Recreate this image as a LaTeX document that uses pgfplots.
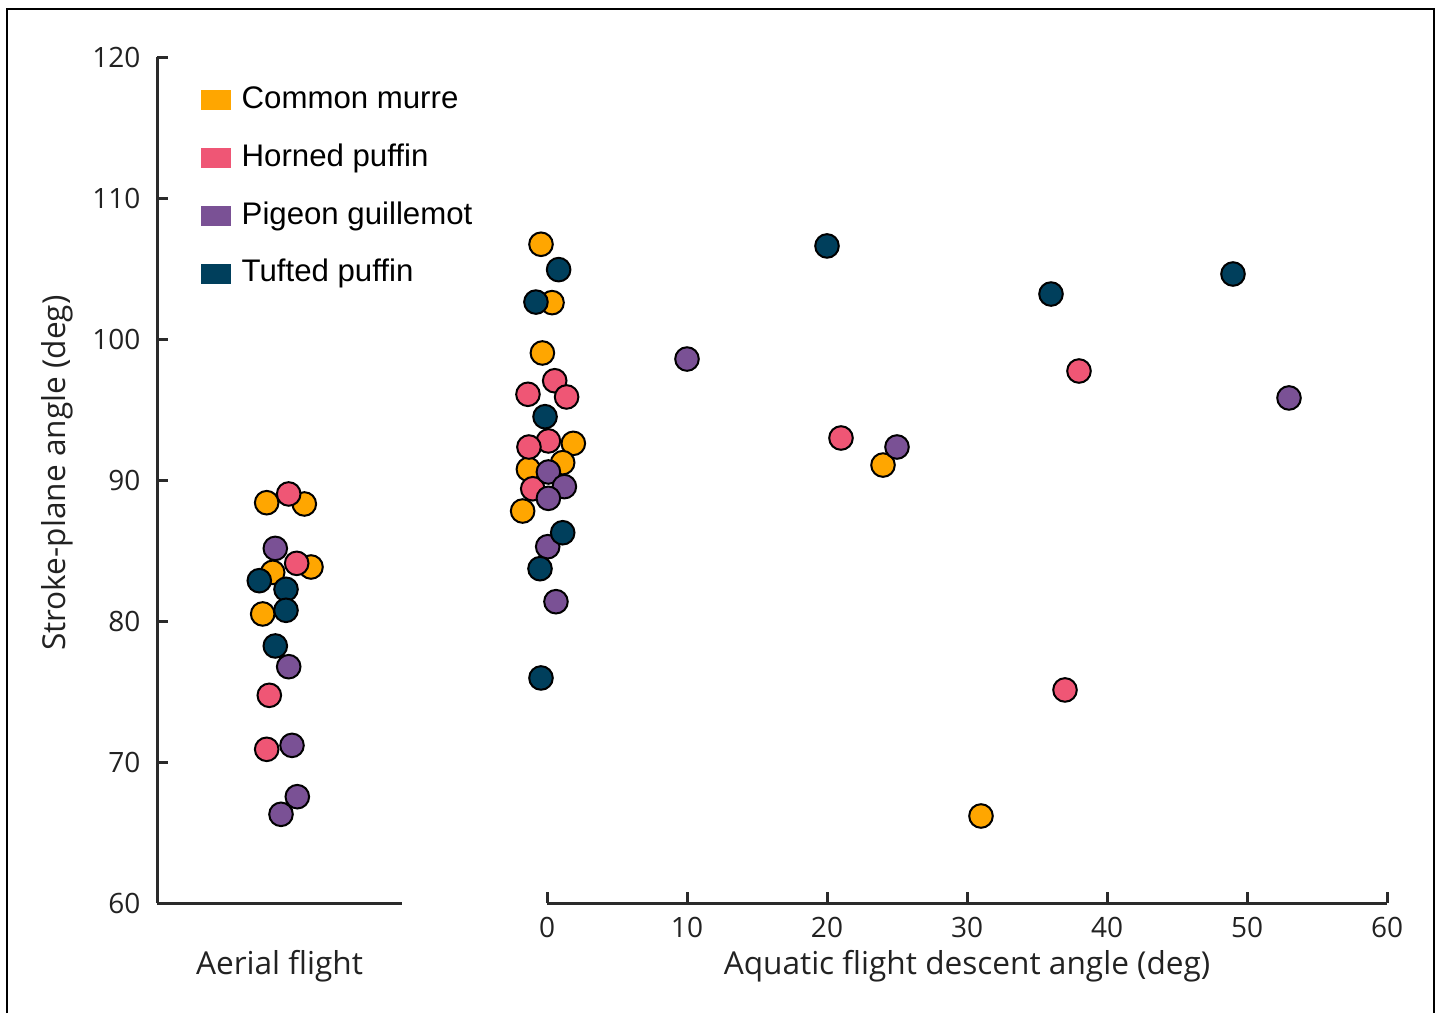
\documentclass[border=0pt]{standalone}
\usepackage{pgfplots}
\pgfplotsset{compat=1.18}
\usepackage{fontspec}
\setmainfont{Open Sans}
\newfontfamily\legfont{Liberation Sans}
\definecolor{cmurre}{HTML}{FFA600}
\definecolor{hpuffin}{HTML}{EF5675}
\definecolor{pguill}{HTML}{7A5195}
\definecolor{tpuffin}{HTML}{003F5C}
\definecolor{axgray}{HTML}{2A2A2A}
\definecolor{txtgray}{HTML}{222222}
\pgfplotsset{
  pts/.style={only marks, mark=*, mark size=5.9pt, mark options={draw=black, line width=1pt, fill=#1}},
  common/.style={
    scale only axis, anchor=south west, clip=false,
    ymin=60, ymax=120, height=423pt,
    axis line style={line width=1.5pt, color=axgray},
    tick style={line width=1.5pt, color=axgray},
    tick align=inside, major tick length=5.5pt,
    /pgf/number format/assume math mode=true,
    tick label style={font=\fontsize{14}{16}\selectfont, text=txtgray},
    label style={font=\fontsize{15.8}{19}\selectfont, text=txtgray},
  }
}
\begin{document}
\begin{tikzpicture}
\useasboundingbox (0,0) rectangle (720pt,506.5pt);
\draw[line width=0.6pt, black] (3.5pt,0) -- (3.5pt,502pt) -- (717pt,502pt) -- (717pt,0);
% left axis: aerial flight
\begin{axis}[common,
  at={(78.5pt,55pt)}, width=122.5pt,
  xmin=0, xmax=245,
  axis x line*=bottom, axis y line*=left,
  xtick=\empty, ytick={60,70,...,120},
  yticklabel style={xshift=-4.8pt},
  xlabel={Aerial flight},
  xlabel style={at={(axis description cs:0.5,-0.0745)}, anchor=center},
  ylabel={Stroke-plane angle (deg)},
  ylabel style={at={(axis description cs:-0.408,0.508)}, anchor=center},
  legend style={draw=none, fill=none, at={(axis description cs:0.1555,0.970)}, anchor=north west,
    font=\legfont\fontsize{15.6}{17}\selectfont, text=black,
    nodes={inner sep=0pt, text height=11pt, text depth=3.5pt},
    row sep=14.35pt, /tikz/every odd column/.append style={column sep=5.2pt}},
  legend cell align=left,
]
\addlegendimage{legend image code/.code={\fill[cmurre] (0pt,-4.3pt) rectangle (14.5pt,5.2pt);}}
\addlegendentry{Common murre}
\addlegendimage{legend image code/.code={\fill[hpuffin] (0pt,-4.3pt) rectangle (14.5pt,5.2pt);}}
\addlegendentry{Horned puffin}
\addlegendimage{legend image code/.code={\fill[pguill] (0pt,-4.3pt) rectangle (14.5pt,5.2pt);}}
\addlegendentry{Pigeon guillemot}
\addlegendimage{legend image code/.code={\fill[tpuffin] (0pt,-4.3pt) rectangle (14.5pt,5.2pt);}}
\addlegendentry{Tufted puffin}
\addplot[pts=cmurre, forget plot] coordinates {(109.7,88.39) (147.3,88.30) (154,83.83) (115.7,83.45) (105.7,80.50)};
\addplot[pts=hpuffin, forget plot] coordinates {(131.7,89.01) (139.7,84.09) (112.3,74.73) (109.7,70.90)};
\addplot[pts=pguill, forget plot] coordinates {(118.3,85.15) (131.7,76.76) (135,71.18) (140.3,67.54) (124,66.29)};
\addplot[pts=tpuffin, forget plot] coordinates {(102.3,82.86) (129,82.25) (129,80.76) (118.3,78.23)};
\end{axis}
% right axis: aquatic flight
\begin{axis}[common,
  at={(273.5pt,55pt)}, width=420pt,
  xmin=0, xmax=60,
  axis x line*=bottom, axis y line=none,
  xtick={0,10,...,60},
  xticklabel style={yshift=-3.5pt},
  xlabel={Aquatic flight descent angle (deg)},
  xlabel style={at={(axis description cs:0.5,-0.0745)}, anchor=center},
]
\addplot[pts=cmurre] coordinates {(-0.43,106.72) (0.36,102.58) (-0.33,99.01) (1.88,92.60) (1.12,91.23) (-1.33,90.76) (-1.74,87.80) (24,91.06) (31,66.17)};
\addplot[pts=hpuffin] coordinates {(0.55,97.04) (-1.36,96.08) (1.40,95.89) (0.10,92.77) (-1.29,92.34) (-1.02,89.38) (21,92.98) (38,97.73) (37,75.11)};
\addplot[pts=pguill] coordinates {(0.10,90.57) (1.24,89.53) (0.10,88.70) (0.05,85.27) (0.64,81.37) (10,98.58) (25,92.34) (53,95.82)};
\addplot[pts=tpuffin] coordinates {(0.83,104.92) (-0.79,102.62) (-0.14,94.49) (1.12,86.26) (-0.5,83.71) (-0.43,75.96) (20,106.60) (36,103.19) (49,104.61)};
\end{axis}
\end{tikzpicture}
\end{document}
